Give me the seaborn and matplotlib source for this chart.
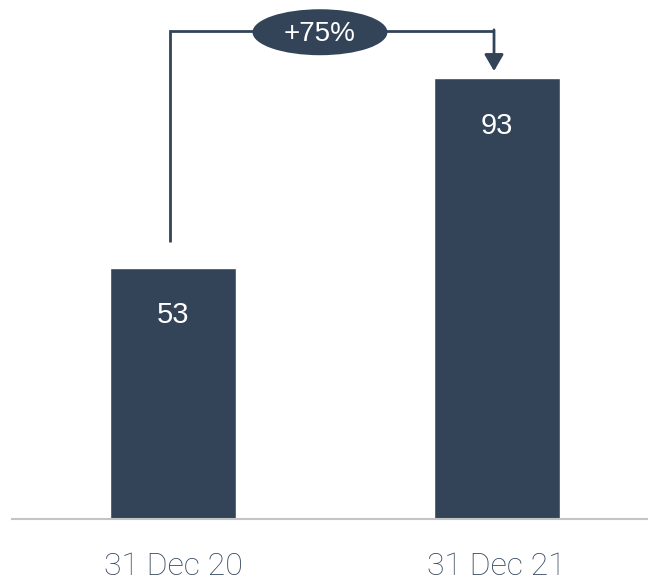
import matplotlib
matplotlib.use("Agg")
import matplotlib.pyplot as plt
from matplotlib.patches import Ellipse
import seaborn as sns
import pandas as pd

categories = ["31 Dec 20", "31 Dec 21"]
values = [53, 93]
change_label = "+75%"

BAR = "#334459"
TXT = "#34465b"

sns.set_theme(style="white")
plt.rcParams["font.family"] = ["Roboto", "DejaVu Sans"]

df = pd.DataFrame({"date": categories, "value": values})

fig = plt.figure(figsize=(6.48, 5.82), dpi=100)
ax = fig.add_axes([12 / 648, 63 / 582, 636 / 648, 519 / 582])
sns.barplot(data=df, x="date", y="value", color=BAR, saturation=1, width=0.39, ax=ax)

ax.set_xlim(-0.498, 1.468)
ax.set_ylim(0, 109.5)
ax.set_xlabel("")
ax.set_ylabel("")
ax.set_yticks([])
for s in ["left", "right", "top"]:
    ax.spines[s].set_visible(False)
ax.spines["bottom"].set_color("#c4c4c4")
ax.spines["bottom"].set_linewidth(1.5)
ax.tick_params(axis="x", length=0, pad=24, labelsize=23, labelcolor=TXT)
for lab in ax.get_xticklabels():
    lab.set_fontweight("light")

for i, v in enumerate(values):
    ax.text(i, v - 10.0, str(v), ha="center", va="center", color="white",
            fontsize=21, family=["Liberation Sans", "DejaVu Sans"])

# connector
start = values[0] + 5.5
top = max(values) + 10
tip = values[1] + 1.5
ax.plot([-0.01, -0.01, 0.992], [start, top, top], color=BAR, lw=2,
        solid_capstyle="butt", solid_joinstyle="miter")
ax.annotate("", xy=(0.992, tip), xytext=(0.992, top + 0.2),
            arrowprops=dict(arrowstyle="-|>,head_length=0.5,head_width=0.29",
                            mutation_scale=20, color=BAR, lw=2,
                            shrinkA=0, shrinkB=0))
ell = Ellipse((0.454, 102.7), width=0.417, height=9.7, facecolor=BAR,
              edgecolor="none", zorder=5)
ax.add_patch(ell)
ax.text(0.454, 102.4, change_label, ha="center", va="center", color="white",
        fontsize=20, family=["Liberation Sans", "DejaVu Sans"], zorder=6)

fig.savefig("out.png", dpi=100)
